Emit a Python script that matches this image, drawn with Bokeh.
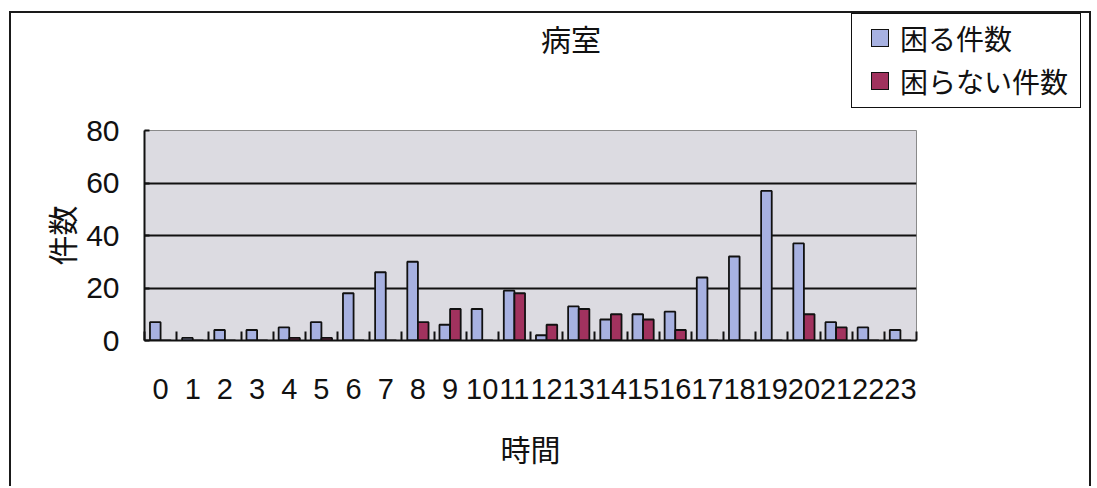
from bokeh.plotting import figure
from bokeh.layouts import column
from bokeh.models import ColumnDataSource, FixedTicker, Range1d, Div
from bokeh.transform import dodge
from bokeh.embed import file_html
from bokeh.resources import INLINE

# ---- data ----
hours = list(range(24))
hour_labels = [str(h) for h in hours]
komaru = [7, 1, 4, 4, 5, 7, 18, 26, 30, 6, 12, 19, 2, 13, 8, 10, 11, 24, 32, 57, 37, 7, 5, 4]
komaranai = [0, 0, 0, 0, 1, 1, 0, 0, 7, 12, 0, 18, 6, 12, 10, 8, 4, 0, 0, 0, 10, 5, 0, 0]
series_names = ["困る件数", "困らない件数"]
title_text = "病室"
x_title = "時間"
y_title = "件数"
y_ticks = [0, 20, 40, 60, 80]

BLUE = "#a7b1e1"
RED = "#a1325e"
INK = "#111111"
series_colors = [BLUE, RED]
NUM_FONT = "Liberation Sans Narrow, Liberation Sans, Arial Narrow, sans-serif"
JP_FONT = "Noto Sans CJK JP"
BORDER = "2px solid #1a1a1a"

# ---------------- header (title + legend) ----------------
HW, HH = 1078, 97
rows_html = ""
for i, (name, col) in enumerate(zip(series_names, series_colors)):
    top = 10 + i * 43
    rows_html += (
        f'<div style="position:absolute;left:19px;top:{top}px;height:28px;'
        f'display:flex;align-items:center;white-space:nowrap;">'
        f'<span style="display:inline-block;box-sizing:border-box;width:18px;height:18px;'
        f'background:{col};border:1.5px solid {INK};margin-right:11px;"></span>'
        f'<span style="font-family:\'{JP_FONT}\';font-size:28px;line-height:28px;color:{INK};">{name}</span>'
        f'</div>'
    )
header_html = (
    f'<div style="position:relative;width:{HW}px;height:{HH}px;overflow:hidden;background:white;">'
    f'<div style="position:absolute;left:460px;top:10px;width:200px;text-align:center;'
    f'font-family:\'{JP_FONT}\';font-size:30px;line-height:30px;color:{INK};">{title_text}</div>'
    f'<div style="position:absolute;left:840px;top:0px;width:230px;height:95px;box-sizing:border-box;'
    f'border:1.5px solid {INK};background:white;">{rows_html}</div>'
    f'</div>'
)
header = Div(text=header_html, width=HW + 4, height=HH + 2, margin=(11, 0, 0, 9),
             styles={"border-left": BORDER, "border-top": BORDER, "border-right": BORDER,
                     "box-sizing": "border-box", "overflow": "hidden"})

# ---------------- main chart ----------------
centers = [h + 0.5 for h in hours]
src = ColumnDataSource(dict(x=centers, a=komaru, b=komaranai))

p = figure(width=HW + 4, height=376, output_backend="svg", toolbar_location=None,
           x_range=Range1d(0, 24), y_range=Range1d(0, 80), title=None,
           min_border_left=133, min_border_right=177, min_border_top=20, min_border_bottom=146,
           margin=(0, 0, 0, 9),
           styles={"border-left": BORDER, "border-right": BORDER})

p.background_fill_color = "#dcdbe1"
p.border_fill_color = "white"
p.outline_line_color = "#8a8a8a"
p.outline_line_width = 1

p.vbar(x=dodge("x", -0.165, range=p.x_range), top="a", width=0.33, source=src,
       fill_color=series_colors[0], line_color=INK, line_width=1.8)
p.vbar(x=dodge("x", 0.165, range=p.x_range), top="b", width=0.33, source=src,
       fill_color=series_colors[1], line_color=INK, line_width=1.8)

# x axis
xa = p.xaxis[0]
xa.ticker = FixedTicker(ticks=centers, minor_ticks=hours + [24])
xa.major_label_overrides = {c: lab for c, lab in zip(centers, hour_labels)}
xa.major_tick_in = 0
xa.major_tick_out = 0
xa.minor_tick_in = 9
xa.minor_tick_out = 0
xa.minor_tick_line_color = INK
xa.minor_tick_line_width = 2
xa.axis_line_color = INK
xa.axis_line_width = 2
xa.major_label_text_font = NUM_FONT
xa.major_label_text_font_size = "29px"
xa.major_label_text_color = INK
xa.major_label_standoff = 38
xa.axis_label = x_title
xa.axis_label_text_font = JP_FONT
xa.axis_label_text_font_size = "30px"
xa.axis_label_text_font_style = "normal"
xa.axis_label_text_color = INK
xa.axis_label_standoff = 24

# y axis
ya = p.yaxis[0]
ya.ticker = FixedTicker(ticks=y_ticks)
ya.minor_tick_line_color = None
ya.major_tick_in = 5
ya.major_tick_out = 0
ya.major_tick_line_color = INK
ya.major_tick_line_width = 2
ya.axis_line_color = INK
ya.axis_line_width = 2
ya.major_label_text_font = NUM_FONT
ya.major_label_text_font_size = "30px"
ya.major_label_text_color = INK
ya.major_label_standoff = 25
ya.axis_label = y_title
ya.axis_label_text_font = JP_FONT
ya.axis_label_text_font_size = "30px"
ya.axis_label_text_font_style = "normal"
ya.axis_label_text_color = INK
ya.axis_label_standoff = 0

# grid
p.xgrid.grid_line_color = None
p.ygrid.ticker = FixedTicker(ticks=y_ticks[1:-1])
p.ygrid.grid_line_color = INK
p.ygrid.grid_line_width = 2

layout = column(header, p, spacing=0)
open("out.html", "w").write(file_html(layout, INLINE))
